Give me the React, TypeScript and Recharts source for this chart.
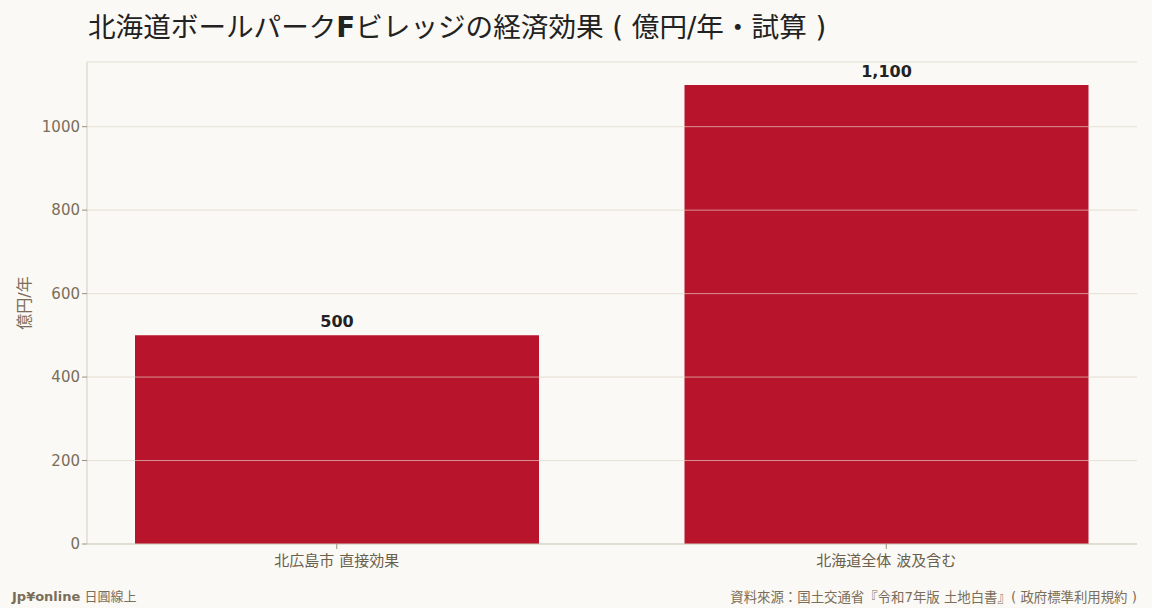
import React from "react";
import {
  BarChart,
  Bar,
  XAxis,
  YAxis,
  CartesianGrid,
  ReferenceLine,
  LabelList,
} from "recharts";

// 北海道ボールパークFビレッジの経済効果（億円/年・試算）
const categories = ["北広島市 直接効果", "北海道全体 波及含む"];
const values = [500, 1100];
const yTicks = [0, 200, 400, 600, 800, 1000];

const data = categories.map((name, i) => ({ name, value: values[i] }));

const FONT = '"DejaVu Sans", "Noto Sans CJK JP", sans-serif';
const BG = "#faf9f5";
const BAR = "#b8152c";
const TICK = "#7a6e5a";
const GRID = "#e3dfd4";

export default function App() {
  return (
    <div
      style={{
        position: "absolute",
        top: 0,
        left: 0,
        width: 1152,
        height: 608,
        background: BG,
        fontFamily: FONT,
        overflow: "hidden",
      }}
    >
      <div
        style={{
          position: "absolute",
          left: 88,
          top: 9,
          fontSize: 27.6,
          color: "#222",
          whiteSpace: "nowrap",
          lineHeight: "38px",
        }}
      >
        北海道ボールパーク<b>F</b>ビレッジの経済効果 ( 億円/年・試算 )
      </div>

      <BarChart
        width={1152}
        height={608}
        data={data}
        margin={{ top: 62, right: 15, left: 0, bottom: 34 }}
        barSize={404}
      >
        <CartesianGrid stroke={GRID} vertical={false} />
        <XAxis
          dataKey="name"
          height={30}
          padding={{ left: -25, right: -24 }}
          tick={{ fill: "#6b604c", fontSize: 15, fontFamily: FONT }}
          tickLine={{ stroke: "#9a907e" }}
          tickSize={5}
          tickMargin={6}
          axisLine={{ stroke: "#d3cdc0" }}
        />
        <YAxis
          width={87}
          domain={[0, 1155]}
          ticks={yTicks}
          tick={{ fill: TICK, fontSize: 15, fontFamily: FONT }}
          tickLine={{ stroke: "#9a907e" }}
          tickSize={5}
          axisLine={{ stroke: "#d3cdc0" }}
          label={{
            value: "億円/年",
            angle: -90,
            position: "insideLeft",
            offset: 24,
            fontSize: 16,
            fill: TICK,
            style: {
              textAnchor: "middle",
              fill: TICK,
              fontSize: 16,
              fontFamily: FONT,
            },
          }}
        />
        <Bar dataKey="value" fill={BAR} isAnimationActive={false}>
          <LabelList
            dataKey="value"
            position="top"
            offset={8}
            formatter={(v: number) => v.toLocaleString("en-US")}
            style={{
              fill: "#222",
              fontSize: 16,
              fontWeight: 700,
              fontFamily: FONT,
            }}
          />
        </Bar>
        {yTicks.slice(1).map((t) => (
          <ReferenceLine
            key={t}
            y={t}
            stroke="#ece6dc"
            strokeOpacity={0.6}
            strokeWidth={1}
          />
        ))}
      </BarChart>

      <div
        style={{
          position: "absolute",
          left: 12,
          top: 586,
          fontSize: 13,
          color: TICK,
          whiteSpace: "nowrap",
        }}
      >
        <b>Jp¥online</b> 日圓線上
      </div>
      <div
        style={{
          position: "absolute",
          right: 15,
          top: 586,
          fontSize: 13.4,
          color: TICK,
          whiteSpace: "nowrap",
        }}
      >
        資料來源：国土交通省『令和7年版 土地白書』( 政府標準利用規約 )
      </div>
    </div>
  );
}
